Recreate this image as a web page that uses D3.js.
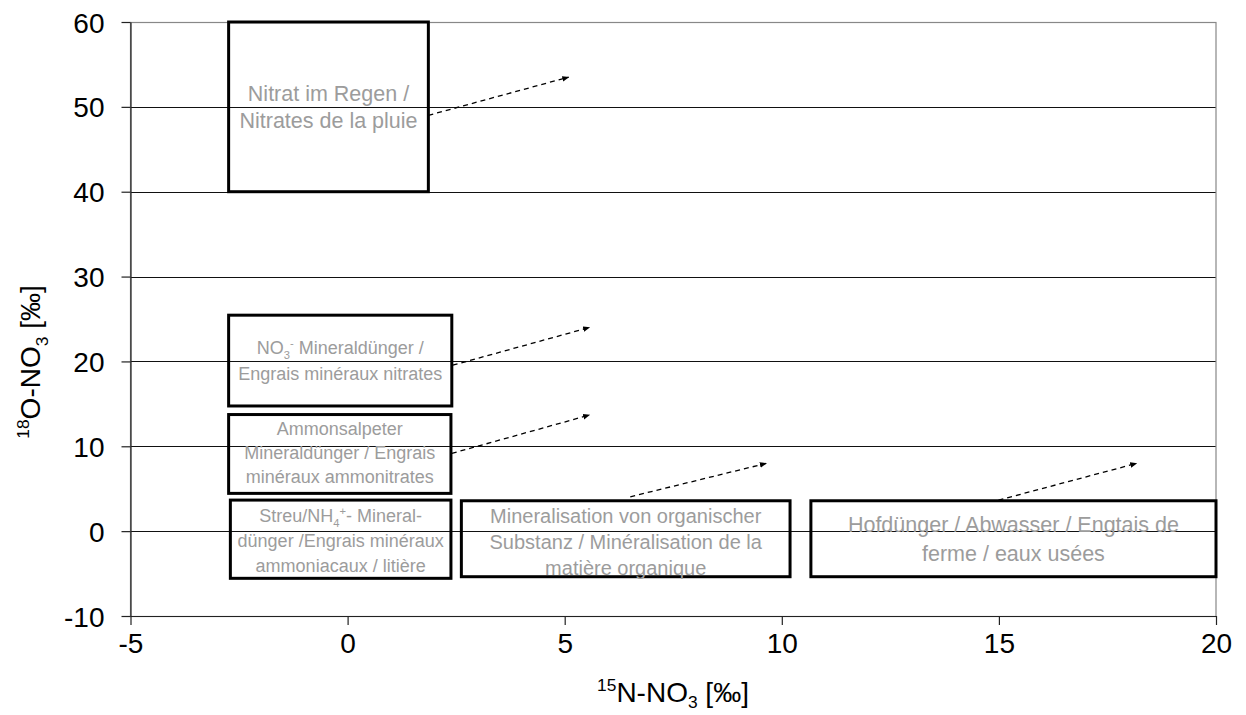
<!DOCTYPE html>
<html><head><meta charset="utf-8">
<script src="https://cdn.jsdelivr.net/npm/d3@7"></script>
<style>body{margin:0;background:#fff} svg{display:block} text{font-family:"Liberation Sans",Arial,sans-serif}</style>
</head><body><svg id="c" width="1246" height="715"></svg>
<script>
// ---- data ----
const xTicks = [-5, 0, 5, 10, 15, 20];
const yTicks = [-10, 0, 10, 20, 30, 40, 50, 60];
const sourceNames = ["rain", "no3", "ammon", "streu", "mineral", "hof"];
const sourceLabels = [
  ["Nitrat im Regen /", "Nitrates de la pluie"],
  ["NO_{3}^{-} Mineraldünger /", "Engrais minéraux nitrates"],
  ["Ammonsalpeter", "Mineraldünger / Engrais", "minéraux ammonitrates"],
  ["Streu/NH_{4}^{+}- Mineral-", "dünger /Engrais minéraux", "ammoniacaux / litière"],
  ["Mineralisation von organischer", "Substanz / Minéralisation de la", "matière organique"],
  ["Hofdünger / Abwasser / Engtais de", "ferme / eaux usées"]
];
const n15Min = [-2.74, -2.74, -2.74, -2.70, 2.62, 10.67];
const n15Max = [1.86, 2.40, 2.38, 2.38, 10.19, 20.0];
const o18Min = [40, 14.75, 4.45, -5.56, -5.37, -5.37];
const o18Max = [60, 25.45, 13.74, 3.66, 3.58, 3.58];
const arrowFromN15 = [1.86, 2.42, 2.40, 6.51, 14.99];
const arrowFromO18 = [49.0, 19.55, 9.16, 4.05, 3.65];
const arrowToN15 = [5.09, 5.57, 5.57, 9.64, 18.17];
const arrowToO18 = [53.5, 24.0, 13.68, 7.98, 7.98];
const xTitle = "^{15}N-NO_{3} [‰]";
const yTitle = "^{18}O-NO_{3} [‰]";

// ---- style ----
const labelStyle = {
  rain:    {size: 21.5, lh: 27,   shift: 0},
  no3:     {size: 18,   lh: 25.3, shift: 0},
  ammon:   {size: 18,   lh: 24,   shift: -1.3},
  streu:   {size: 18,   lh: 25,   shift: 1.2},
  mineral: {size: 20,   lh: 26,   shift: 3},
  hof:     {size: 21.5, lh: 29,   shift: 0}
};
const labelColor = "#9c9c9c";

const svg = d3.select("#c");
svg.append("rect").attr("width", 1246).attr("height", 715).attr("fill", "#fff");

const x = d3.scaleLinear().domain([-5, 20]).range([130.5, 1216]);
const y = d3.scaleLinear().domain([-10, 60]).range([616, 22]);

// rich text helper: ^{..} superscript, _{..} subscript
function parseRich(s) {
  const out = []; const re = /([_^])\{([^}]*)\}/g; let last = 0, m;
  while ((m = re.exec(s))) {
    if (m.index > last) out.push({t: s.slice(last, m.index), k: "n"});
    out.push({t: m[2], k: m[1] === "_" ? "sub" : "sup"});
    last = re.lastIndex;
  }
  if (last < s.length) out.push({t: s.slice(last), k: "n"});
  return out;
}
function writeRich(textSel, s, f, subF) {
  let off = 0;
  const sb = subF === undefined ? 0.28 : subF;
  parseRich(s).forEach(seg => {
    const target = seg.k === "sub" ? sb * f : seg.k === "sup" ? -0.38 * f : 0;
    textSel.append("tspan")
      .attr("dy", target - off)
      .attr("font-size", seg.k === "n" ? f : 0.62 * f)
      .text(seg.t);
    off = target;
  });
}

// gridlines
svg.append("g").selectAll("line").data(yTicks.filter(v => v > -10 && v < 60)).join("line")
  .attr("x1", x(-5)).attr("x2", x(20))
  .attr("y1", d => Math.round(y(d)) + 0.5).attr("y2", d => Math.round(y(d)) + 0.5)
  .attr("stroke", "#111").attr("stroke-width", 1);

// plot border
svg.append("rect")
  .attr("x", x(-5)).attr("y", y(60) + 0.5)
  .attr("width", x(20) - x(-5)).attr("height", y(-10) - y(60))
  .attr("fill", "none").attr("stroke", "#888").attr("stroke-width", 1.2);

// axes
const fmt = d => String(d);
const yAxis = svg.append("g").attr("transform", `translate(${x(-5)},0)`)
  .call(d3.axisLeft(y).tickValues(yTicks).tickSize(9).tickPadding(17).tickSizeOuter(0).tickFormat(fmt));
const xAxis = svg.append("g").attr("transform", `translate(0,${y(-10)})`)
  .call(d3.axisBottom(x).tickValues(xTicks).tickSize(9).tickPadding(8).tickSizeOuter(0).tickFormat(fmt));
[yAxis, xAxis].forEach(g => {
  g.selectAll("path").attr("stroke", "#222").attr("stroke-width", 1.2);
  g.selectAll("line").attr("stroke", "#222").attr("stroke-width", 1.2);
  g.selectAll("text").attr("font-size", 28).attr("fill", "#000")
    .attr("font-family", '"Liberation Sans",Arial,sans-serif');
});
yAxis.selectAll("text").attr("dy", "0.36em");

// axis titles
const xt = svg.append("text").attr("x", 673).attr("y", 702).attr("text-anchor", "middle").attr("fill", "#000");
writeRich(xt, xTitle, 28, 0.2);
const yt = svg.append("text").attr("transform", "translate(40,362) rotate(-90)").attr("text-anchor", "middle").attr("fill", "#000");
writeRich(yt, yTitle, 28);

// arrow marker
svg.append("defs").append("marker")
  .attr("id", "ah").attr("viewBox", "0 0 10 10").attr("refX", 9).attr("refY", 5)
  .attr("markerWidth", 7).attr("markerHeight", 7).attr("markerUnits", "userSpaceOnUse")
  .attr("orient", "auto")
  .append("path").attr("d", "M0,1 L10,5 L0,9 Z").attr("fill", "#000");

// boxes
const boxes = sourceNames.map((n, i) => ({n, i, x0: n15Min[i], x1: n15Max[i], y0: o18Min[i], y1: o18Max[i], lines: sourceLabels[i]}));
svg.append("g").selectAll("rect").data(boxes).join("rect")
  .attr("x", d => x(d.x0)).attr("y", d => y(d.y1))
  .attr("width", d => x(d.x1) - x(d.x0)).attr("height", d => y(d.y0) - y(d.y1))
  .attr("fill", "none").attr("stroke", "#000").attr("stroke-width", 3);

// labels
boxes.forEach(d => {
  const st = labelStyle[d.n];
  const cx = (x(d.x0) + x(d.x1)) / 2;
  const cy = (y(d.y0) + y(d.y1)) / 2;
  const n = d.lines.length;
  const first = cy - (n - 1) * st.lh / 2 + 0.35 * st.size + st.shift;
  d.lines.forEach((ln, k) => {
    const t = svg.append("text").attr("x", cx).attr("y", first + k * st.lh)
      .attr("text-anchor", "middle").attr("fill", labelColor);
    writeRich(t, ln, st.size);
  });
});

// arrows
svg.append("g").selectAll("line").data(arrowFromN15.map((v, i) => i)).join("line")
  .attr("x1", i => x(arrowFromN15[i])).attr("y1", i => y(arrowFromO18[i]))
  .attr("x2", i => x(arrowToN15[i])).attr("y2", i => y(arrowToO18[i]))
  .attr("stroke", "#000").attr("stroke-width", 1.3).attr("stroke-dasharray", "5,4")
  .attr("marker-end", "url(#ah)");
</script></body></html>
